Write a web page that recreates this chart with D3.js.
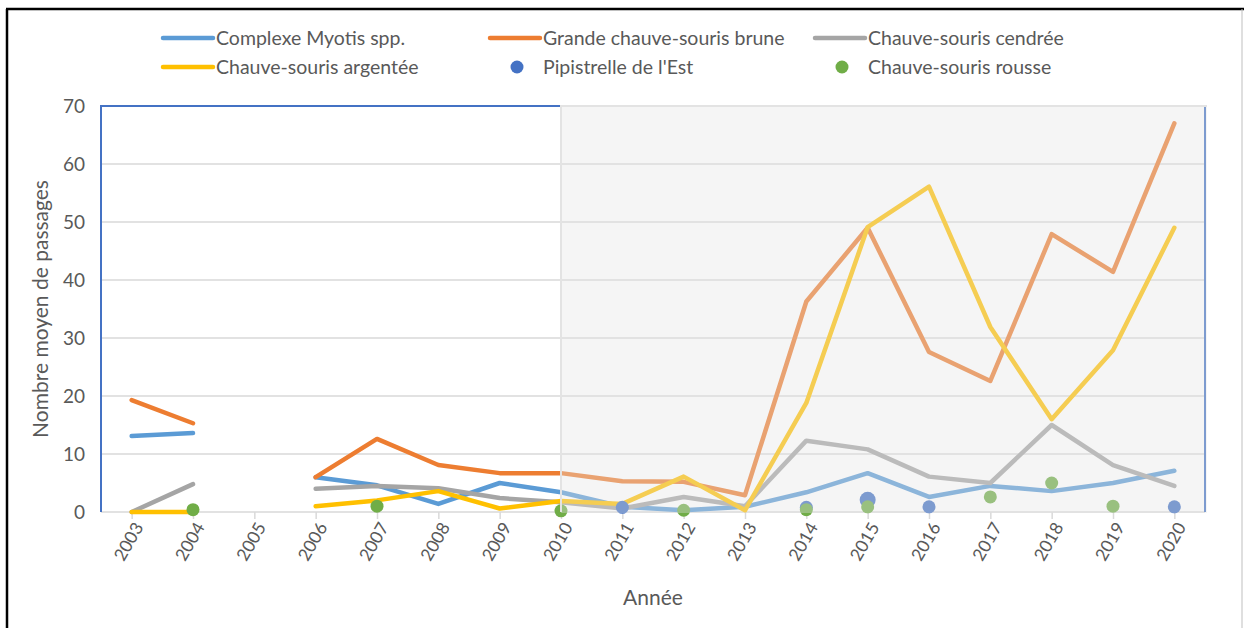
<!DOCTYPE html>
<html>
<head>
<meta charset="utf-8">
<script src="https://cdn.jsdelivr.net/npm/d3@7"></script>
<style>
  body { margin: 0; background: #fff; }
  text { font-family: Lato, "Open Sans", sans-serif; fill: #595959; }
</style>
</head>
<body>
<script>
// data
var years = ["2003","2004","2005","2006","2007","2008","2009","2010","2011","2012",
             "2013","2014","2015","2016","2017","2018","2019","2020"];

var myotis   = [13.1, 13.6, null, 6.0, 4.6, 1.4, 5.0, 3.4, 0.9, 0.3, 0.9, 3.4, 6.7, 2.6, 4.5, 3.6, 5.0, 7.1];
var brune    = [19.3, 15.3, null, 6.0, 12.6, 8.1, 6.7, 6.7, 5.3, 5.2, 2.9, 36.3, 49.0, 27.6, 22.6, 47.9, 41.4, 67.0];
var cendree  = [0, 4.8, null, 4.0, 4.5, 4.1, 2.4, 1.7, 0.6, 2.6, 1.0, 12.3, 10.8, 6.1, 5.0, 15.0, 8.1, 4.5];
var argentee = [0, 0, null, 1.0, 2.0, 3.6, 0.6, 1.9, 1.4, 6.1, 0.3, 18.8, 49.1, 56.1, 31.9, 16.0, 27.9, 49.0];
var pipistrelle = [null, null, null, null, null, null, null, null, 0.8, null, null, 0.8, 2.1, 0.9, null, null, null, 0.9];
var rousse   = [null, 0.4, null, null, 1.0, null, null, 0.2, null, 0.3, null, 0.4, 0.9, null, 2.6, 5.0, 1.0, null];

var yTicks = [0, 10, 20, 30, 40, 50, 60, 70];

var lineSeries = [
  {name: "Complexe Myotis spp.", values: myotis, color: "#5B9BD5"},
  {name: "Grande chauve-souris brune", values: brune, color: "#ED7D31"},
  {name: "Chauve-souris cendrée", values: cendree, color: "#A5A5A5"},
  {name: "Chauve-souris argentée", values: argentee, color: "#FFC000"}
];
var dotSeries = [
  {name: "Pipistrelle de l'Est", values: pipistrelle, color: "#4472C4"},
  {name: "Chauve-souris rousse", values: rousse, color: "#70AD47"}
];

var width = 1244, height = 628;
var plotLeft = 101, plotRight = 1205, plotTop = 106, plotBottom = 512;

var svg = d3.select("body").append("svg")
    .attr("width", width)
    .attr("height", height)
    .style("display", "block");

// outer frame
svg.append("line").attr("x1", 7).attr("y1", 9).attr("x2", 7).attr("y2", height)
    .attr("stroke", "#000").attr("stroke-width", 2.5);
svg.append("line").attr("x1", 6).attr("y1", 9).attr("x2", width).attr("y2", 9)
    .attr("stroke", "#000").attr("stroke-width", 2.5);
svg.append("line").attr("x1", 1242).attr("y1", 9).attr("x2", 1242).attr("y2", height)
    .attr("stroke", "#bfbfbf").attr("stroke-width", 1);

var x = d3.scalePoint()
    .domain(years)
    .range([plotLeft, plotRight])
    .padding(0.5);

var y = d3.scaleLinear()
    .domain([0, 70])
    .range([plotBottom, plotTop]);

// gridlines
svg.append("g")
  .selectAll("line")
  .data(yTicks.slice(1))
  .enter().append("line")
    .attr("x1", plotLeft).attr("x2", plotRight)
    .attr("y1", function(d){ return y(d); })
    .attr("y2", function(d){ return y(d); })
    .attr("stroke", "#d9d9d9")
    .attr("stroke-width", 1.5);

// x axis line + ticks
var xAxis = svg.append("g")
    .attr("transform", "translate(0," + plotBottom + ")")
    .call(d3.axisBottom(x).tickSize(7).tickFormat(""));
xAxis.select(".domain").attr("d", "M" + plotLeft + ",0H" + plotRight).attr("stroke", "#d9d9d9").attr("stroke-width", 1.5);
xAxis.selectAll(".tick line").attr("stroke", "#d9d9d9").attr("stroke-width", 1.5);

// x tick labels, rotated
svg.append("g")
  .selectAll("text")
  .data(years)
  .enter().append("text")
    .attr("transform", function(d){ return "translate(" + (x(d) + 7) + "," + (plotBottom + 12) + ") rotate(-60)"; })
    .attr("text-anchor", "end")
    .attr("dy", "0.35em")
    .style("font-size", "17.5px")
    .text(function(d){ return d; });

// y axis labels
svg.append("g")
  .selectAll("text")
  .data(yTicks)
  .enter().append("text")
    .attr("x", 85)
    .attr("y", function(d){ return y(d); })
    .attr("dy", "0.35em")
    .attr("text-anchor", "end")
    .style("font-size", "19px")
    .text(function(d){ return d; });

// plot border (blue)
svg.append("path")
    .attr("d", "M" + plotLeft + "," + plotBottom + "V" + plotTop + "H" + plotRight + "V" + plotBottom)
    .attr("fill", "none")
    .attr("stroke", "#4472C4")
    .attr("stroke-width", 2);

// series lines
var line = d3.line()
    .defined(function(d){ return d != null; })
    .x(function(d, i){ return x(years[i]); })
    .y(function(d){ return y(d); });

svg.append("g")
  .selectAll("path")
  .data(lineSeries)
  .enter().append("path")
    .attr("d", function(d){ return line(d.values); })
    .attr("fill", "none")
    .attr("stroke", function(d){ return d.color; })
    .attr("stroke-width", 4.5)
    .attr("stroke-linejoin", "round")
    .attr("stroke-linecap", "round");

// dot series
dotSeries.forEach(function(s){
  svg.append("g")
    .selectAll("circle")
    .data(s.values.map(function(v, i){ return {year: years[i], v: v}; })
      .filter(function(d){ return d.v != null; }))
    .enter().append("circle")
      .attr("cx", function(d){ return x(d.year); })
      .attr("cy", function(d){ return y(d.v); })
      .attr("r", function(d){ return d.v > 2 && s.color == "#4472C4" ? 8 : 6.5; })
      .attr("fill", s.color);
});

// translucent grey panel from 2010 onward
var x2010 = x("2010");
svg.append("rect")
    .attr("x", x2010)
    .attr("y", plotTop - 1)
    .attr("width", plotRight + 2 - x2010)
    .attr("height", plotBottom - plotTop + 2)
    .attr("fill", "#e3e3e3")
    .attr("opacity", 0.36);
svg.append("line")
    .attr("x1", x2010).attr("x2", x2010)
    .attr("y1", plotTop - 1).attr("y2", plotBottom)
    .attr("stroke", "#e3e3e3").attr("stroke-width", 2);
svg.append("line")
    .attr("x1", x2010).attr("x2", plotRight + 2)
    .attr("y1", plotTop).attr("y2", plotTop)
    .attr("stroke", "#e3e3e3").attr("stroke-width", 2);

// axis titles
svg.append("text")
    .attr("x", (plotLeft + plotRight) / 2)
    .attr("y", 605)
    .attr("text-anchor", "middle")
    .style("font-size", "21px")
    .text("Année");

svg.append("text")
    .attr("transform", "translate(48," + ((plotTop + plotBottom) / 2) + ") rotate(-90)")
    .attr("text-anchor", "middle")
    .style("font-size", "21px")
    .text("Nombre moyen de passages");

// legend
var legendItems = [
  {s: lineSeries[0], type: "line", x: 163, y: 38},
  {s: lineSeries[1], type: "line", x: 490, y: 38},
  {s: lineSeries[2], type: "line", x: 815, y: 38},
  {s: lineSeries[3], type: "line", x: 163, y: 67},
  {s: dotSeries[0], type: "dot", x: 490, y: 67},
  {s: dotSeries[1], type: "dot", x: 815, y: 67}
];
var legend = svg.append("g")
  .selectAll("g")
  .data(legendItems)
  .enter().append("g")
    .attr("transform", function(d){ return "translate(" + d.x + "," + d.y + ")"; });

legend.filter(function(d){ return d.type == "line"; })
  .append("line")
    .attr("x1", 0).attr("x2", 50)
    .attr("stroke", function(d){ return d.s.color; })
    .attr("stroke-width", 4.5)
    .attr("stroke-linecap", "round");

legend.filter(function(d){ return d.type == "dot"; })
  .append("circle")
    .attr("cx", 27).attr("r", 6.5)
    .attr("fill", function(d){ return d.s.color; });

legend.append("text")
    .attr("x", 53)
    .attr("dy", "0.35em")
    .style("font-size", "19.5px")
    .text(function(d){ return d.s.name; });
</script>
</body>
</html>
